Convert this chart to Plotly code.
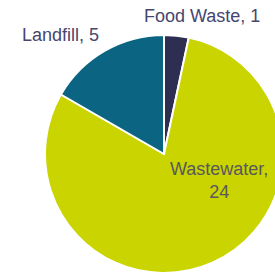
import plotly.graph_objects as go

labels = ["Food Waste", "Wastewater", "Landfill"]
values = [1, 24, 5]
colors = ["#2e2d52", "#cad400", "#0a6482"]

W, H = 300, 276
cx, cy, r = 164, 154, 119

fig = go.Figure(go.Pie(
    labels=labels,
    values=values,
    sort=False,
    direction="clockwise",
    rotation=0,
    marker=dict(colors=colors, line=dict(color="white", width=2)),
    textinfo="none",
    hoverinfo="label+value",
    showlegend=False,
    domain=dict(x=[(cx - r) / W, (cx + r) / W], y=[(H - cy - r) / H, (H - cy + r) / H]),
))

label_pos = {"Food Waste": (202, 16), "Wastewater": (219, 180), "Landfill": (60, 35)}
label_colors = {"Food Waste": "#46466e", "Wastewater": "#58585e", "Landfill": "#46466e"}
for lab, val in zip(labels, values):
    x, y = label_pos[lab]
    text = f"{lab},<br>{val}" if lab == "Wastewater" else f"{lab}, {val}"
    fig.add_annotation(x=x / W, y=1 - y / H, xref="paper", yref="paper",
                       text=text, showarrow=False, xanchor="center", yanchor="middle",
                       font=dict(family="Liberation Sans, Arial, sans-serif", size=18,
                                 color=label_colors[lab]))

fig.update_layout(width=W, height=H, margin=dict(l=0, r=0, t=0, b=0),
                  paper_bgcolor="white", plot_bgcolor="white")

fig.write_html("out.html", config={"displayModeBar": False},
               post_script="document.body.style.margin='0';document.body.style.overflow='hidden';document.documentElement.style.overflow='hidden';")
